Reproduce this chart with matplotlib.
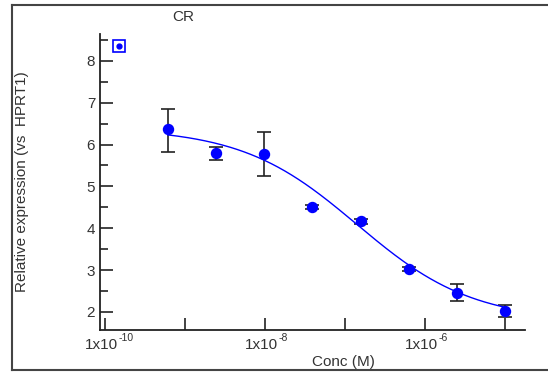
import matplotlib

matplotlib.use("Agg")

import matplotlib.pyplot as plt
import numpy as np
from matplotlib.lines import Line2D
from matplotlib.ticker import FixedLocator, MultipleLocator, NullFormatter

plt.rcParams["font.family"] = ["Liberation Sans", "DejaVu Sans"]

# data (4-fold dilution series)
conc = [6.1e-10, 2.44e-9, 9.77e-9, 3.9e-8, 1.5625e-7, 6.25e-7, 2.5e-6, 1e-5]
expr = [6.36, 5.79, 5.78, 4.50, 4.17, 3.03, 2.46, 2.02]
err_hi = [6.86, 5.95, 6.31, 4.55, 4.23, 3.07, 2.67, 2.17]
err_lo = [5.81, 5.62, 5.24, 4.45, 4.11, 2.99, 2.26, 1.88]

# excluded point
outlier_conc = 1.5e-10
outlier_expr = 8.36

# 4PL fit parameters
fit_top = 6.4
fit_bottom = 1.78
fit_log_ec50 = -6.85
fit_hill = 0.6

decades = [-10, -9, -8, -7, -6, -5]
labelled = [-10, -8, -6]

text_col = "#333333"
blue = "#0000ff"

fig = plt.figure(figsize=(5.48, 3.73), dpi=100)
ax = fig.add_axes([100 / 548, 43 / 373, 425 / 548, 296 / 373])

conc = np.array(conc)
expr = np.array(expr)
yerr = np.vstack([expr - np.array(err_lo), np.array(err_hi) - expr])

ax.errorbar(conc, expr, yerr=yerr, fmt="none", ecolor="#222222",
            elinewidth=1.2, capsize=5, capthick=1.2, zorder=2)

xx = np.logspace(np.log10(conc.min()), np.log10(conc.max()), 200)
yy = fit_bottom + (fit_top - fit_bottom) / (1 + 10 ** ((np.log10(xx) - fit_log_ec50) * fit_hill))
ax.plot(xx, yy, color=blue, lw=1.0, zorder=3)

ax.plot(conc, expr, "o", color=blue, ms=7.2, zorder=4)
ax.plot([outlier_conc], [outlier_expr], "o", color=blue, ms=3.5, zorder=4)
ax.plot([outlier_conc], [outlier_expr], "s", mfc="none", mec=blue, ms=9, mew=1.2, zorder=4)

ax.set_xscale("log")
ax.set_xlim(10 ** -10.0625, 10 ** -4.75)
ax.set_ylim(1.57, 8.64)

ax.xaxis.set_major_locator(FixedLocator([10.0 ** d for d in decades]))
ax.xaxis.set_minor_locator(FixedLocator([]))
ax.xaxis.set_major_formatter(NullFormatter())

# x tick labels drawn by hand so the exponent keeps a plain hyphen
for d in labelled:
    ax.annotate("1x10", xy=(10.0 ** d, 0), xycoords=("data", "axes fraction"),
                xytext=(9.5, -11), textcoords="offset points",
                ha="right", va="center", fontsize=11, color=text_col)
    ax.annotate("%d" % d, xy=(10.0 ** d, 0), xycoords=("data", "axes fraction"),
                xytext=(9.8, -6), textcoords="offset points",
                ha="left", va="center", fontsize=7.5, color=text_col)

ax.yaxis.set_major_locator(MultipleLocator(1))
ax.yaxis.set_minor_locator(MultipleLocator(0.5))

for s in ["top", "right"]:
    ax.spines[s].set_visible(False)
for s in ["left", "bottom"]:
    ax.spines[s].set_color("#222222")
    ax.spines[s].set_linewidth(1.3)

ax.tick_params(axis="both", which="major", direction="in", length=9, width=1.2,
               color="#222222", labelsize=11, labelcolor=text_col)
ax.tick_params(axis="y", which="minor", direction="in", length=6, width=1.2, color="#222222")

ax.set_xlabel("Conc (M)", fontsize=11, color=text_col)
ax.xaxis.set_label_coords((343 - 100) / 425, (330 - 362) / 296)
ax.xaxis.label.set_va("center")
ax.set_ylabel("Relative expression (vs  HPRT1)", fontsize=11, color=text_col)
ax.yaxis.set_label_coords((22 - 100) / 425, (330 - 182) / 296)
ax.yaxis.label.set_va("center")
fig.text(183 / 548, 1 - 17 / 373, "CR", fontsize=11, color=text_col, ha="center", va="center")

# outer frame (right edge is cut off)
frame_kw = dict(color="#444444", lw=1.5, transform=fig.transFigure)
left, right, top, bottom = 12 / 548, 1.0, 1 - 5 / 373, 1 - 370 / 373
fig.add_artist(Line2D([left, right], [top, top], **frame_kw))
fig.add_artist(Line2D([left, right], [bottom, bottom], **frame_kw))
fig.add_artist(Line2D([left, left], [bottom, top], **frame_kw))

fig.savefig("out.png", dpi=100)
